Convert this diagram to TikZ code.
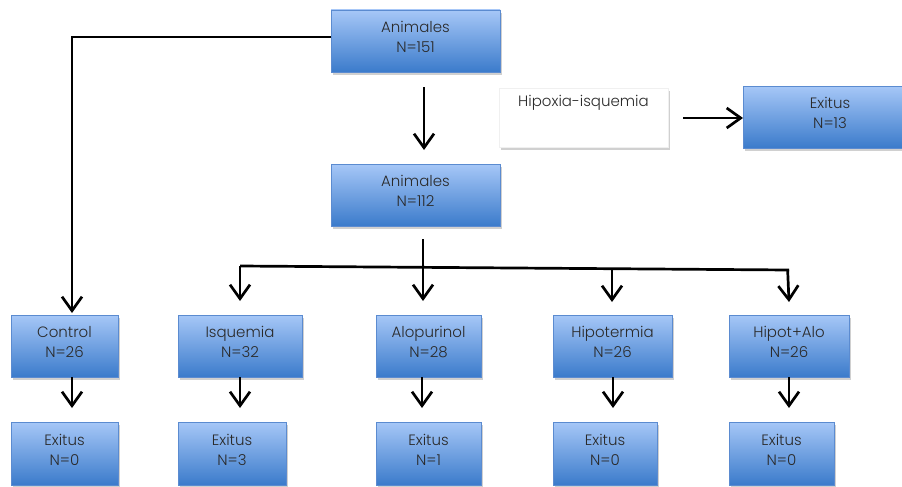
\documentclass[tikz,border=0pt]{standalone}
\usepackage{fontspec}
\IfFontExistsTF{Poppins Light}{\setmainfont{Poppins Light}}{\setmainfont{Poppins}}
\usetikzlibrary{arrows.meta,shadows}
\definecolor{boxtop}{HTML}{A6C7F7}
\definecolor{boxbot}{HTML}{3B7BCB}
\definecolor{boxline}{HTML}{5B8BD0}
\definecolor{txtcol}{HTML}{2A2A2A}
\tikzset{
  box/.style={draw=boxline, line width=0.8pt, top color=boxtop, bottom color=boxbot,
    inner sep=0pt, outer sep=0pt,
    drop shadow={shadow xshift=1.5pt, shadow yshift=-3pt, opacity=0.3, fill=black!60}},
  whitebox/.style={draw=black!6, line width=0.5pt, fill=white, inner sep=0pt, outer sep=0pt,
    drop shadow={shadow xshift=1.5pt, shadow yshift=-3pt, opacity=0.3, fill=black!60}},
  txt/.style={align=center, text=txtcol, inner sep=0pt, font=\fontsize{15}{20}\selectfont},
  conn/.style={line width=2.7pt, black, -{Straight Barb[length=14pt,width=20pt,line width=2.7pt]}},
  plain/.style={line width=2.7pt, black},
}
\newcommand\mybox[7]{%
  \node[#1, minimum width=#5pt, minimum height=#6pt] (#2) at (#3,#4) {};
  \node[txt] (#2t) at ([yshift=4pt]#2.center) {#7};}
\begin{document}
\begin{tikzpicture}[x=1pt,y=-1pt]
\clip (0,0) rectangle (902,487);
\fill[white] (0,0) rectangle (902,487);
% top
\mybox{box}{b151}{415.5}{41}{169}{62}{Animales\\N=151}
\node[whitebox, minimum width=169pt, minimum height=59pt] (hyp) at (583.5,117.5) {};
\node[txt] (hypt) at ([yshift=14.5pt]hyp.center) {Hipoxia-isquemia};
\mybox{box}{ex13}{830}{117}{174}{62}{Exitus\\N=13}
\mybox{box}{b112}{415.5}{195}{169}{62}{Animales\\N=112}
% row 1
\mybox{box}{ctrl}{64.5}{346}{107}{62}{Control\\N=26}
\mybox{box}{isq}{240}{346}{124}{62}{Isquemia\\N=32}
\mybox{box}{alo}{428.5}{346}{105}{62}{Alopurinol\\N=28}
\mybox{box}{hipo}{612.5}{346}{119}{62}{Hipotermia\\N=26}
\mybox{box}{ha}{789}{346}{120}{62}{Hipot+Alo\\N=26}
% row 2
\mybox{box}{ectrl}{64.5}{453.5}{107}{63}{Exitus\\N=0}
\mybox{box}{eisq}{232}{453.5}{108}{63}{Exitus\\N=3}
\mybox{box}{ealo}{428.5}{453.5}{105}{63}{Exitus\\N=1}
\mybox{box}{ehipo}{605}{453.5}{104}{63}{Exitus\\N=0}
\mybox{box}{eha}{781.5}{453.5}{105}{63}{Exitus\\N=0}
% connectors
\coordinate (lc) at (72,37);
\draw[conn] ([yshift=4pt]b151.west) -- (lc) -- (72,313);
\coordinate (d1s) at (424,87);
\coordinate (d1e) at (424,150);
\draw[conn] (d1s) -- (d1e);
\coordinate (hs) at (683,118);
\draw[conn] (hs) -- (hs -| ex13.west);
\coordinate (d2s) at (423,239);
\coordinate (busL) at (240,266);
\coordinate (busR) at (789,270);
\draw[conn] (d2s) -- (423,301);
\draw[plain] (busL) -- (busR);
\draw[conn] (busL) -- (240,301);
\draw[conn] (612,268) -- (612,302);
\draw[conn] ([xshift=-1.35pt]busR) -- (789,302);
% row1 -> row2
\draw[conn] (72,377) -- (72,408);
\draw[conn] (240,377) -- (240,408);
\draw[conn] (422,377) -- (422,408);
\draw[conn] (613,377) -- (613,408);
\draw[conn] (789,377) -- (789,408);
\end{tikzpicture}
\end{document}
